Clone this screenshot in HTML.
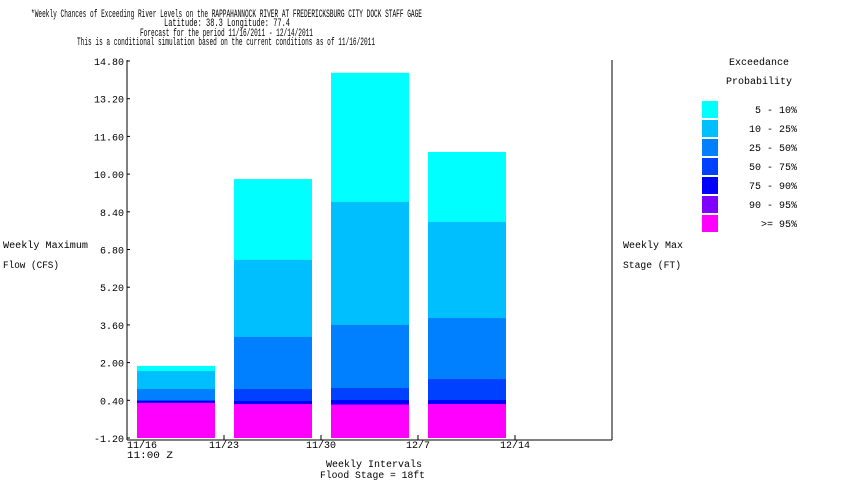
<!DOCTYPE html>
<html><head><meta charset="utf-8"><style>
html,body{margin:0;padding:0;background:#fff;}
svg{display:block;font-family:"Liberation Mono",monospace;}
text{font-size:10px;fill:#000;}
.tt{font-size:11px;}
</style></head><body>
<svg id="chart" width="850" height="500" viewBox="0 0 850 500" xmlns="http://www.w3.org/2000/svg">
<g>
<text class="tt" x="31" y="17" textLength="391" lengthAdjust="spacingAndGlyphs">*Weekly Chances of Exceeding River Levels on the RAPPAHANNOCK RIVER AT FREDERICKSBURG CITY DOCK STAFF GAGE</text>
<text class="tt" x="164" y="26" textLength="126" lengthAdjust="spacingAndGlyphs">Latitude: 38.3    Longitude:  77.4</text>
<text class="tt" x="140" y="36" textLength="173" lengthAdjust="spacingAndGlyphs">Forecast for the period 11/16/2011 - 12/14/2011</text>
<text class="tt" x="77" y="45" textLength="298" lengthAdjust="spacingAndGlyphs">This is a conditional simulation based on the current conditions as of 11/16/2011</text>
</g>
<g id="bars"></g>
<g id="axes"></g>
<g>
<text x="3" y="248" textLength="85" lengthAdjust="spacingAndGlyphs">Weekly Maximum</text>
<text x="3" y="268" textLength="56" lengthAdjust="spacingAndGlyphs">Flow (CFS)</text>
</g>
<g>
<text x="623" y="248" textLength="60" lengthAdjust="spacingAndGlyphs">Weekly Max</text>
<text x="623" y="268" textLength="58" lengthAdjust="spacingAndGlyphs">Stage (FT)</text>
</g>
<g>
<text x="326" y="467" textLength="96" lengthAdjust="spacingAndGlyphs">Weekly Intervals</text>
<text x="320" y="478" textLength="105" lengthAdjust="spacingAndGlyphs">Flood Stage = 18ft</text>
<text x="127" y="458" textLength="46" lengthAdjust="spacingAndGlyphs">11:00 Z</text>
</g>
<g id="legend">
<text x="729" y="65" textLength="60" lengthAdjust="spacingAndGlyphs">Exceedance</text>
<text x="726" y="84" textLength="66" lengthAdjust="spacingAndGlyphs">Probability</text>
</g>
</svg>
<script>
const categories = ["11/16","11/23","11/30","12/7"];
const xTickLabels = ["11/16","11/23","11/30","12/7","12/14"];
const yTickLabels = ["-1.20","0.40","2.00","3.60","5.20","6.80","8.40","10.00","11.60","13.20","14.80"];
const bandLabels = ["5 - 10%","10 - 25%","25 - 50%","50 - 75%","75 - 90%","90 - 95%",">= 95%"];
const bandColors = ["#00ffff","#00bfff","#0080ff","#0040ff","#0000ff","#8000ff","#ff00ff"];
const p5_10  = [1.86, 9.79, 14.30, 10.94];
const p10_25 = [1.64, 6.36, 8.82, 7.97];
const p25_50 = [0.88, 3.09, 3.60, 3.89];
const p50_75 = [0.41, 0.88, 0.92, 1.30];
const p75_90 = [0.37, 0.37, 0.41, 0.41];
const p90_95 = [0.29, 0.24, 0.24, 0.24];
const p95    = [0.29, 0.24, 0.20, 0.24];
const series = [p5_10,p10_25,p25_50,p50_75,p75_90,p90_95,p95];

const NS="http://www.w3.org/2000/svg";
const yMin=-1.2,yMax=14.8,yTop=61,yBot=438;
const xLeft=127,weekW=97;
function yScale(v){return yBot-(v-yMin)/(yMax-yMin)*(yBot-yTop);}
function xScale(i){return xLeft+i*weekW;}
function mk(tag,attrs,parent){const e=document.createElementNS(NS,tag);for(const k in attrs)e.setAttribute(k,attrs[k]);parent.appendChild(e);return e;}

const bars=document.getElementById('bars');
categories.forEach((c,i)=>{
  series.forEach((s,j)=>{
    const top=yScale(s[i]);
    const r=mk('rect',{x:xScale(i)+10,y:top,width:78,height:Math.max(0,yBot-top),fill:bandColors[j]},bars);
    
    
  });
});

const ax=document.getElementById('axes');
let l=mk('line',{x1:xLeft,y1:yTop-1,x2:xLeft,y2:yBot+2,stroke:'#000'},ax);


l=mk('line',{x1:612,y1:yTop-1,x2:612,y2:yBot+2,stroke:'#000'},ax);


l=mk('line',{x1:xLeft,y1:yBot+2,x2:612,y2:yBot+2,stroke:'#000'},ax);


yTickLabels.forEach(t=>{
  const y=yScale(parseFloat(t));
  mk('line',{x1:xLeft,y1:y,x2:xLeft+3,y2:y,stroke:'#000'},ax);
  const tx=mk('text',{x:xLeft-3,y:y+4,'text-anchor':'end'},ax);
  tx.textContent=t;
  
  
});
xTickLabels.forEach((t,i)=>{
  const x=xScale(i);
  mk('line',{x1:x,y1:yBot+2,x2:x,y2:yBot-3,stroke:'#000'},ax);
  const tx=mk('text',{x:x,y:yBot+10,'text-anchor':i==0?'start':'middle'},ax);
  tx.textContent=t;
  
  
});

const lg=document.getElementById('legend');
bandLabels.forEach((b,j)=>{
  const y=101+j*19;
  const r=mk('rect',{x:702,y:y,width:16,height:17,fill:bandColors[j]},lg);
  
  
  const t=mk('text',{x:797,y:y+12,'text-anchor':'end'},lg);
  t.textContent=b;
  
  
});
</script>
</body></html>
